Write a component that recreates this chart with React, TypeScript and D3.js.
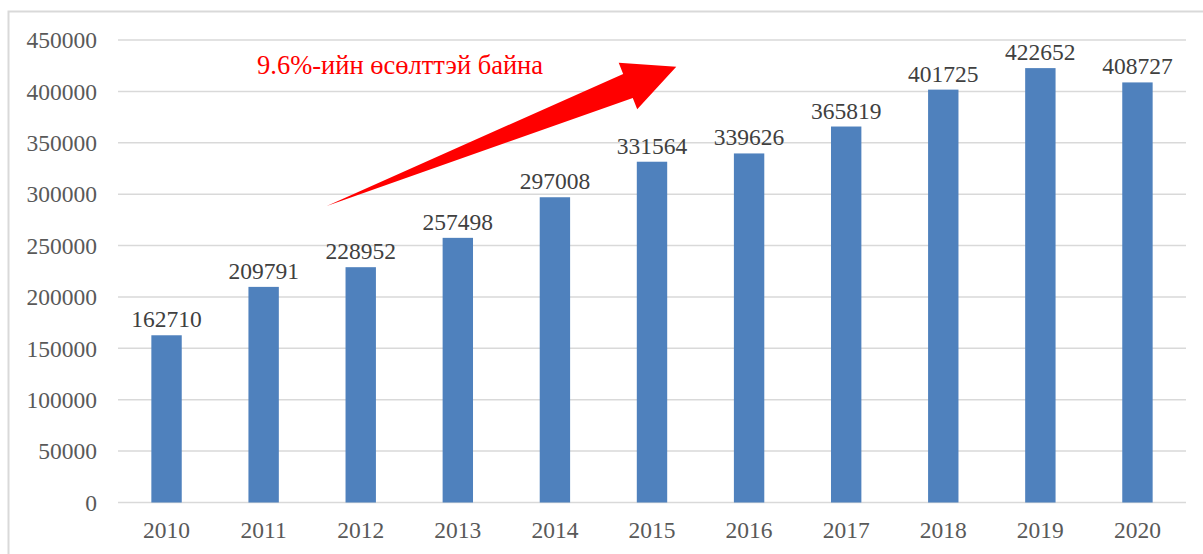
import React from "react";
import * as d3 from "d3";

const years = ["2010","2011","2012","2013","2014","2015","2016","2017","2018","2019","2020"];
const values = [162710, 209791, 228952, 257498, 297008, 331564, 339626, 365819, 401725, 422652, 408727];
const yTicks = [0, 50000, 100000, 150000, 200000, 250000, 300000, 350000, 400000, 450000];
const annotationText = "9.6%-ийн өсөлттэй байна";

const W = 1203, H = 554;
const plot = { left: 118, right: 1186, top: 40, bottom: 502.5 };
const FONT = '"Liberation Serif", "Times New Roman", serif';
const txt = { fontFamily: FONT };

export default function App() {
  const x = d3.scaleBand<string>().domain(years).range([plot.left, plot.right]).paddingInner(0.687).paddingOuter(0.3435);
  const y = d3.scaleLinear().domain([0, 450000]).range([plot.bottom, plot.top]);
  const step = x.step();
  const xi = (i: number) => plot.left + step * (i + 0.5);

  const tail: [number, number] = [xi(1.65), y(288500)];
  const tip: [number, number] = [xi(5.25), y(424000)];
  const ang = Math.atan2(tip[1] - tail[1], tip[0] - tail[0]);
  const ux = Math.cos(ang), uy = Math.sin(ang);
  const nx = -uy, ny = ux;
  const headLen = 52, headHalf = 25, shaftHalf = 13;
  const base: [number, number] = [tip[0] - ux * headLen, tip[1] - uy * headLen];
  const pts: [number, number][] = [
    tail,
    [base[0] + nx * shaftHalf, base[1] + ny * shaftHalf],
    [base[0] + nx * headHalf, base[1] + ny * headHalf],
    tip,
    [base[0] - nx * headHalf, base[1] - ny * headHalf],
    [base[0] - nx * shaftHalf, base[1] - ny * shaftHalf],
  ];
  const arrowPath = d3.line()(pts) + "Z";

  return (
    <svg width={W} height={H} style={{ position: "absolute", left: 0, top: 0, background: "#fff" }}>
      <rect x={8.5} y={11.5} width={W} height={H} fill="none" stroke="#d9d9d9" strokeWidth={2} />
      {yTicks.map((t) => (
        <g key={t}>
          <line x1={plot.left} x2={plot.right} y1={y(t)} y2={y(t)} stroke="#d9d9d9" strokeWidth={1.5} />
          <text x={97} y={y(t)} dy="0.35em" textAnchor="end" fontSize={23.5} fill="#595959" style={txt}>{t}</text>
        </g>
      ))}
      {years.map((yr, i) => (
        <g key={yr}>
          <rect x={x(yr)} y={y(values[i])} width={x.bandwidth()} height={plot.bottom - y(values[i])} fill="#4F81BD" />
          <text x={(x(yr) as number) + x.bandwidth() / 2} y={y(values[i]) - 8} textAnchor="middle" fontSize={23.5} fill="#404040" style={txt}>{values[i]}</text>
          <text x={(x(yr) as number) + x.bandwidth() / 2} y={538} textAnchor="middle" fontSize={23.5} fill="#595959" style={txt}>{yr}</text>
        </g>
      ))}
      <path d={arrowPath} fill="#ff0000" />
      <text x={257} y={74} fontSize={26.5} fill="#ff0000" style={txt}>{annotationText}</text>
    </svg>
  );
}
